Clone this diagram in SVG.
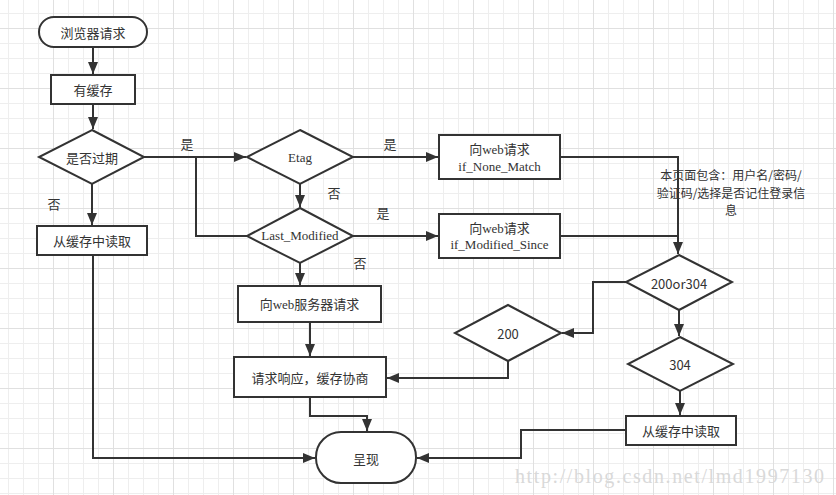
<svg xmlns="http://www.w3.org/2000/svg" width="836" height="495" viewBox="0 0 836 495">
<style>
.n{fill:#fff;stroke:#333;stroke-width:2}
.c{fill:none;stroke:#333;stroke-width:2}
.t{font-family:"Noto Sans CJK SC","Liberation Sans",sans-serif;font-size:13px;fill:#333;text-anchor:middle;dominant-baseline:central}
.s{font-family:"Liberation Serif","Noto Sans CJK SC",serif;font-size:13px;fill:#333;text-anchor:middle;dominant-baseline:central}
.l{font-family:"Noto Sans CJK SC",sans-serif;font-size:13px;fill:#333;text-anchor:middle;dominant-baseline:central}
.nt{font-family:"Noto Sans CJK SC",sans-serif;font-size:12px;fill:#333;text-anchor:middle;dominant-baseline:central}
</style>
<defs>
<pattern id="g" patternUnits="userSpaceOnUse" x="53" y="28" width="60" height="60">
<rect x="0" y="0" width="60" height="60" fill="#fff"/>
<rect x="15" y="0" width="1" height="60" fill="#eeeeee"/>
<rect x="30" y="0" width="1" height="60" fill="#eeeeee"/>
<rect x="45" y="0" width="1" height="60" fill="#eeeeee"/>
<rect x="0" y="15" width="60" height="1" fill="#eeeeee"/>
<rect x="0" y="30" width="60" height="1" fill="#eeeeee"/>
<rect x="0" y="45" width="60" height="1" fill="#eeeeee"/>
<rect x="0" y="0" width="1" height="60" fill="#e0e0e0"/>
<rect x="0" y="0" width="60" height="1" fill="#e0e0e0"/>
</pattern>
<marker id="a" markerUnits="userSpaceOnUse" markerWidth="13" markerHeight="11" refX="12" refY="5" orient="auto">
<path d="M0,0 L12,5 L0,10 z" fill="#333"/>
</marker>
</defs>
<rect width="836" height="495" fill="url(#g)"/>
<text x="515" y="483" textLength="309" lengthAdjust="spacing" style="font-family:'Liberation Serif',serif;font-size:20px;fill:#d9d9d9">http://blog.csdn.net/lmd1997130</text>

<g id="connectors">
<path class="c" d="M93,47 V74" marker-end="url(#a)"/>
<path class="c" d="M93,104 V129" marker-end="url(#a)"/>
<path class="c" d="M144,157 H246" marker-end="url(#a)"/>
<path class="c" d="M196,157 V236 H248"/>
<path class="c" d="M92,184 V225" marker-end="url(#a)"/>
<path class="c" d="M353,157 H438" marker-end="url(#a)"/>
<path class="c" d="M300,184 V207" marker-end="url(#a)"/>
<path class="c" d="M353,236 H438" marker-end="url(#a)"/>
<path class="c" d="M300,263 V285" marker-end="url(#a)"/>
<path class="c" d="M310,322 V356" marker-end="url(#a)"/>
<path class="c" d="M310,397 V416 H367 V431" marker-end="url(#a)"/>
<path class="c" d="M93,255 V458 H315" marker-end="url(#a)"/>
<path class="c" d="M626,430 H521 V458 H417" marker-end="url(#a)"/>
<path class="c" d="M560,157 H678 V254" marker-end="url(#a)"/>
<path class="c" d="M560,236 H678"/>
<path class="c" d="M626,282 H593 V333 H562" marker-end="url(#a)"/>
<path class="c" d="M508,361 V378 H387" marker-end="url(#a)"/>
<path class="c" d="M679,310 V336" marker-end="url(#a)"/>
<path class="c" d="M680,391 V415" marker-end="url(#a)"/>
<text class="l" x="187" y="143">是</text>
<text class="l" x="54" y="203">否</text>
<text class="l" x="390" y="143">是</text>
<text class="l" x="334" y="192">否</text>
<text class="l" x="383" y="212">是</text>
<text class="l" x="360" y="262">否</text>
</g>

<g id="n1"><rect class="n" x="39" y="17" width="108" height="30" rx="15"/><text class="t" x="93" y="32">浏览器请求</text></g>
<g id="n2"><rect class="n" x="51" y="75" width="84" height="29"/><text class="t" x="93" y="89.5">有缓存</text></g>
<g id="n3"><polygon class="n" points="92,130 144,157 92,184 39,157"/><text class="t" x="92" y="157">是否过期</text></g>
<g id="n4"><rect class="n" x="37" y="226" width="110" height="29"/><text class="t" x="92" y="240.5">从缓存中读取</text></g>
<g id="n5"><polygon class="n" points="300,130 353,157 300,184 247,157"/><text class="s" x="300" y="157">Etag</text></g>
<g id="n6"><polygon class="n" points="300,208 353,236 300,263 247,236"/><text class="s" x="300" y="235">Last_Modified</text></g>
<g id="n7"><rect class="n" x="439" y="135" width="121" height="44"/><text class="s" x="499.5" y="149">向web请求</text><text class="s" x="499.5" y="166">if_None_Match</text></g>
<g id="n8"><rect class="n" x="439" y="214" width="121" height="44"/><text class="s" x="499.5" y="228">向web请求</text><text class="s" x="499.5" y="244">if_Modified_Since</text></g>
<g id="n9"><rect class="n" x="238" y="286" width="143" height="36"/><text class="s" x="309.5" y="304">向web服务器请求</text></g>
<g id="n10"><rect class="n" x="234" y="357" width="152" height="40"/><text class="t" x="310" y="377">请求响应，缓存协商</text></g>
<g id="n11"><rect class="n" x="316" y="432" width="100" height="51" rx="25"/><text class="t" x="366" y="458">呈现</text></g>
<g id="n12"><polygon class="n" points="679,255 732,282 679,310 626,282"/><text class="t" x="679" y="283">200or304</text></g>
<g id="n13"><polygon class="n" points="508,305 561,333 508,361 455,333"/><text class="t" x="508" y="333">200</text></g>
<g id="n14"><polygon class="n" points="680,337 733,364 680,391 628,364"/><text class="t" x="680" y="364">304</text></g>
<g id="n15"><rect class="n" x="626" y="416" width="110" height="29"/><text class="t" x="681" y="430.5">从缓存中读取</text></g>
<g id="note"><text class="nt"><tspan x="731" y="174">本页面包含：用户名/密码/</tspan><tspan x="731" y="191.5">验证码/选择是否记住登录信</tspan><tspan x="731" y="209">息</tspan></text></g>
</svg>
